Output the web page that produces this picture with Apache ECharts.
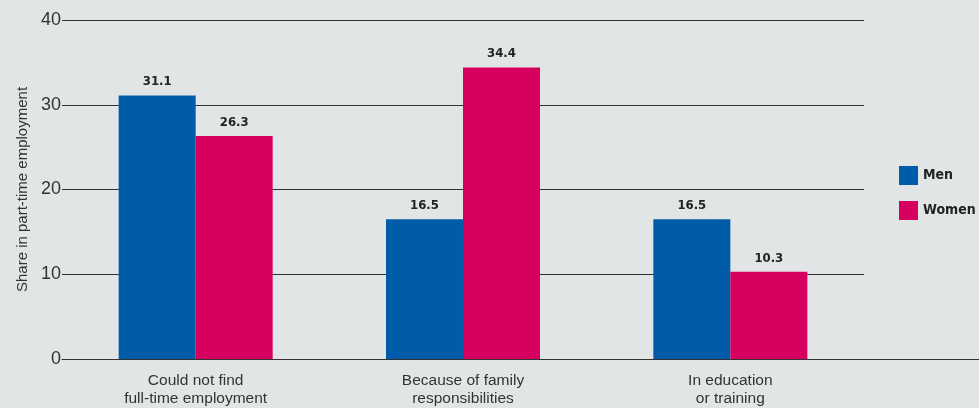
<!DOCTYPE html>
<html>
<head>
<meta charset="utf-8">
<script src="https://cdn.jsdelivr.net/npm/echarts@6/dist/echarts.min.js"></script>
<style>
html, body {margin: 0; padding: 0; background: #e2e5e6;}
#chart {width: 979px; height: 408px;}
</style>
</head>
<body>
<div id="chart"></div>
<script>
var categories = ['Could not find\nfull-time employment', 'Because of family\nresponsibilities', 'In education\nor training'];
var men = [31.1, 16.5, 16.5];
var women = [26.3, 34.4, 10.3];
var yTicks = [0, 10, 20, 30, 40];

var narrow = '"DejaVu Sans Condensed", "Liberation Sans Narrow", "Arial Narrow", sans-serif';
var chart = echarts.init(document.getElementById('chart'));
var barLabel = {
    show: true,
    position: 'top',
    distance: 7,
    fontFamily: narrow,
    fontWeight: 'bold',
    fontSize: 13,
    color: '#222',
    formatter: function(p) { return p.value.toFixed(1); }
};
chart.setOption({
    backgroundColor: '#e2e5e6',
    animation: false,
    grid: {left: 62, right: 115, top: 20, bottom: 49},
    legend: {
        orient: 'vertical',
        left: 894,
        top: 161,
        itemWidth: 19,
        itemHeight: 19,
        itemGap: 16,
        icon: 'rect',
        textStyle: {fontFamily: narrow, fontWeight: 'bold', fontSize: 14, color: '#222'},
        data: ['Men', 'Women']
    },
    xAxis: {
        type: 'category',
        data: categories,
        axisTick: {show: false},
        axisLine: {lineStyle: {color: '#333', width: 1}},
        axisLabel: {fontFamily: 'Liberation Sans', fontSize: 15.5, color: '#333', margin: 13, lineHeight: 18}
    },
    yAxis: {
        type: 'value',
        min: yTicks[0],
        max: yTicks[yTicks.length - 1],
        interval: 10,
        name: 'Share in part-time employment',
        nameLocation: 'middle',
        nameGap: 32,
        nameRotate: 90,
        nameTextStyle: {fontFamily: 'Liberation Sans', fontSize: 15, color: '#333'},
        axisLine: {show: false},
        axisTick: {show: false},
        axisLabel: {fontFamily: 'Liberation Sans', fontSize: 18, color: '#333', margin: 1},
        splitLine: {lineStyle: {color: '#333', width: 1}}
    },
    graphic: [{
        type: 'line',
        shape: {x1: 864, y1: 359.5, x2: 979, y2: 359.5},
        style: {stroke: '#333', lineWidth: 1}
    }],
    series: [{
        name: 'Men',
        type: 'bar',
        data: men,
        barWidth: 77,
        barGap: '0%',
        itemStyle: {color: '#005ca9'},
        label: barLabel
    }, {
        name: 'Women',
        type: 'bar',
        data: women,
        barWidth: 77,
        barGap: '0%',
        itemStyle: {color: '#d6005e'},
        label: barLabel
    }]
});
</script>
</body>
</html>
